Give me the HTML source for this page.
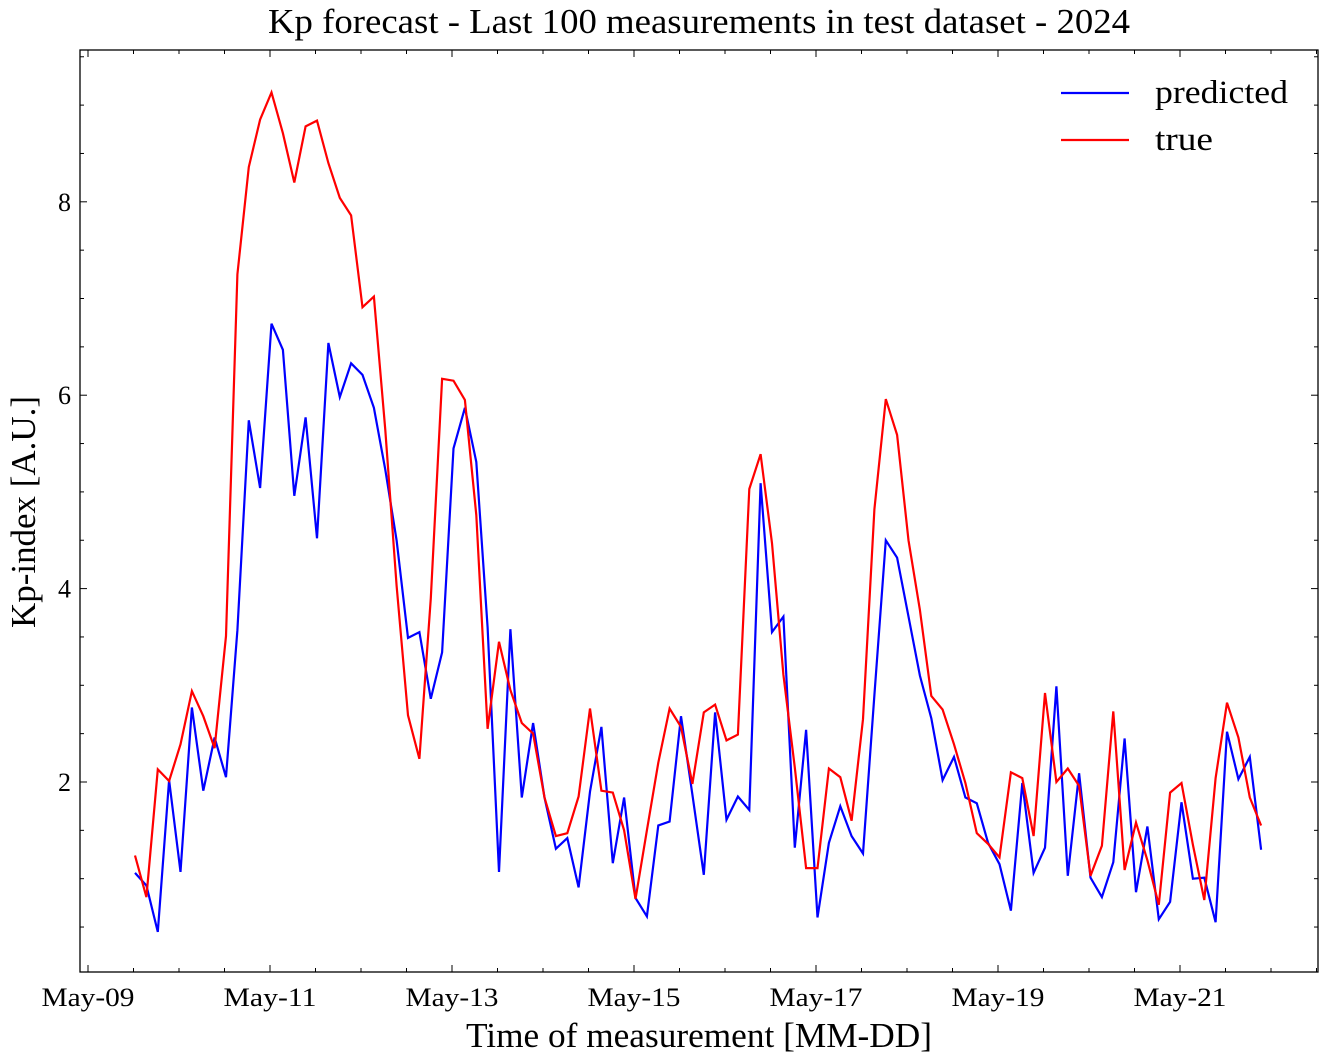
<!DOCTYPE html>
<html><head><meta charset="utf-8"><style>
html,body{margin:0;padding:0;background:#fff;}
svg{display:block;font-family:"Liberation Serif",serif;}
</style></head><body>
<svg id="chart" width="1328" height="1064" viewBox="0 0 1328 1064" xmlns="http://www.w3.org/2000/svg">
<rect x="0" y="0" width="1328" height="1064" fill="#fff"/>
<text x="699" y="33" font-size="35" text-anchor="middle" textLength="862" lengthAdjust="spacingAndGlyphs">Kp forecast - Last 100 measurements in test dataset - 2024</text>
<g id="ticks"></g>
<g id="lines"></g>
<rect x="80" y="50" width="1238" height="922" fill="none" stroke="#000" stroke-width="1.3"/>
<text x="699" y="1047" font-size="35" text-anchor="middle" textLength="466" lengthAdjust="spacingAndGlyphs">Time of measurement [MM-DD]</text>
<text transform="translate(35,512) rotate(-90)" font-size="35" text-anchor="middle" textLength="232" lengthAdjust="spacingAndGlyphs">Kp-index [A.U.]</text>
<g>
<line x1="1061" y1="93" x2="1129" y2="93" stroke="#0000ff" stroke-width="2.2"/>
<text x="1155" y="103" font-size="33" textLength="133" lengthAdjust="spacingAndGlyphs">predicted</text>
<line x1="1061" y1="140" x2="1129" y2="140" stroke="#ff0000" stroke-width="2.2"/>
<text x="1155" y="150" font-size="33" textLength="58" lengthAdjust="spacingAndGlyphs">true</text>
</g>
</svg>
<script>
const predicted = [1.06,0.93,0.45,2.02,1.07,2.77,1.91,2.46,2.05,3.57,5.74,5.04,6.74,6.47,4.96,5.77,4.52,6.54,5.98,6.33,6.21,5.87,5.23,4.50,3.49,3.55,2.86,3.34,5.45,5.87,5.31,3.6,1.07,3.58,1.84,2.61,1.84,1.31,1.42,0.91,1.9,2.57,1.16,1.84,0.8,0.61,1.55,1.59,2.68,1.87,1.04,2.72,1.61,1.85,1.71,5.09,3.55,3.71,1.32,2.54,0.6,1.37,1.75,1.44,1.26,2.9,4.50,4.32,3.71,3.1,2.66,2.02,2.26,1.84,1.78,1.37,1.15,0.67,1.99,1.06,1.32,2.99,1.03,2.09,1.01,0.81,1.17,2.45,0.86,1.54,0.58,0.76,1.79,1.0,1.01,0.55,2.52,2.03,2.26,1.3];
const trueVals = [1.24,0.81,2.13,2.01,2.39,2.94,2.68,2.35,3.51,7.25,8.36,8.85,9.13,8.71,8.2,8.78,8.84,8.4,8.04,7.86,6.91,7.02,5.64,4.03,2.69,2.24,3.9,6.17,6.15,5.95,4.76,2.55,3.45,2.95,2.61,2.5,1.84,1.44,1.47,1.85,2.76,1.91,1.89,1.5,0.79,1.5,2.2,2.76,2.57,1.98,2.72,2.8,2.43,2.49,5.03,5.39,4.47,3.11,2.15,1.11,1.11,2.14,2.05,1.6,2.65,4.82,5.96,5.59,4.5,3.78,2.89,2.75,2.39,1.99,1.47,1.36,1.22,2.1,2.04,1.44,2.92,2.0,2.14,1.96,1.03,1.34,2.73,1.09,1.58,1.19,0.73,1.89,1.99,1.35,0.78,2.04,2.82,2.46,1.84,1.55];
const xTickLabels = ["May-09","May-11","May-13","May-15","May-17","May-19","May-21"];
const yTickValues = [2,4,6,8];
const startHour = 12.4;
const stepHours = 3;

const NS = "http://www.w3.org/2000/svg";
const L = 80, R = 1318, T = 50, B = 972;
const yMin = 0.035, yMax = 9.57;
const pxPerHour = 91/24, x0 = 88;
function xScale(h){ return x0 + h*pxPerHour; }
function yScale(v){ return B - (v - yMin)/(yMax - yMin)*(B - T); }
function mk(tag, attrs){ const e = document.createElementNS(NS, tag); for (const k in attrs) e.setAttribute(k, attrs[k]); return e; }

const ticks = document.getElementById('ticks');
for (let h = 0; xScale(h) <= R; h += 12) {
  const x = xScale(h);
  const major = (h % 48 === 0);
  const len = major ? 7 : 4;
  const t1 = mk('line', {x1:x, y1:B, x2:x, y2:B-len, stroke:'#000', 'stroke-width':1});
  
  
  ticks.appendChild(t1);
  const t2 = mk('line', {x1:x, y1:T, x2:x, y2:T+len, stroke:'#000', 'stroke-width':1});
  
  
  ticks.appendChild(t2);
  if (major) {
    const lbl = xTickLabels[h/48];
    if (lbl) {
      const tx = mk('text', {x:x, y:1006, 'font-size':26, 'text-anchor':'middle', textLength:93, lengthAdjust:'spacingAndGlyphs'});
      tx.textContent = lbl;
      
      
      ticks.appendChild(tx);
    }
  }
}
for (let v = 0.5; v < yMax; v += 0.5) {
  const y = yScale(v);
  const major = yTickValues.includes(v);
  const len = major ? 7 : 4;
  const a = mk('line', {x1:L, y1:y, x2:L+len, y2:y, stroke:'#000', 'stroke-width':1});
  
  
  ticks.appendChild(a);
  const b = mk('line', {x1:R, y1:y, x2:R-len, y2:y, stroke:'#000', 'stroke-width':1});
  
  
  ticks.appendChild(b);
  if (major) {
    const tx = mk('text', {x:71, y:y+9, 'font-size':26, 'text-anchor':'end'});
    tx.textContent = String(v);
    
    
    ticks.appendChild(tx);
  }
}
const lines = document.getElementById('lines');
function drawSeries(vals, color, name){
  const pts = vals.map((v,i) => xScale(startHour + i*stepHours).toFixed(1) + ',' + yScale(v).toFixed(1)).join(' ');
  const pl = mk('polyline', {points:pts, fill:'none', stroke:color, 'stroke-width':2.2, 'stroke-linejoin':'miter'});
  
  
  lines.appendChild(pl);
}
drawSeries(predicted, '#0000ff', 'predicted-line');
drawSeries(trueVals, '#ff0000', 'true-line');
</script>
</body></html>
